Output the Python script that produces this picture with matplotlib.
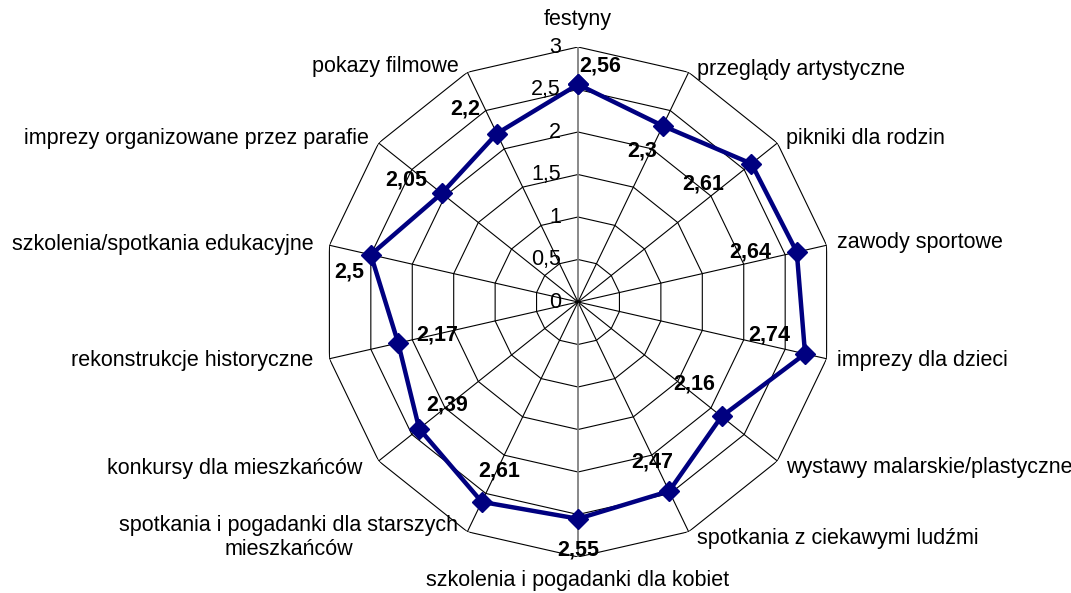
import numpy as np
import matplotlib
matplotlib.use('Agg')
import matplotlib.pyplot as plt

plt.rcParams['font.family'] = ['Liberation Sans', 'DejaVu Sans']

categories = ['festyny', 'przeglądy artystyczne', 'pikniki dla rodzin', 'zawody sportowe',
              'imprezy dla dzieci', 'wystawy malarskie/plastyczne',
              'spotkania z ciekawymi ludźmi', 'szkolenia i pogadanki dla kobiet',
              'spotkania i pogadanki dla starszych\nmieszkańców', 'konkursy dla mieszkańców',
              'rekonstrukcje historyczne', 'szkolenia/spotkania edukacyjne',
              'imprezy organizowane przez parafie', 'pokazy filmowe']
values = [2.56, 2.3, 2.61, 2.64, 2.74, 2.16, 2.47, 2.55, 2.61, 2.39, 2.17, 2.5, 2.05, 2.2]
rings = [0.5, 1, 1.5, 2, 2.5, 3]
tick_values = [0, 0.5, 1, 1.5, 2, 2.5, 3]

# label offsets in pixels (dx, dy with y down)
val_off = [(22, -18), (-21, 25), (-48, 20), (-47, 0), (-36, -19), (-27, -32), (-17, -29),
           (0, 31), (17, -31), (28, -24), (39, -8), (-22, 17), (-36, -13), (-32, -25)]
cat_off = [(0, -28), (8, -3), (9, -5), (10, -3), (10, 2), (9, 7), (8, 7),
           (0, 24), (-9, 6), (-16, 8), (-16, 2), (-16, -1), (-10, -5), (-9, -6)]
cat_ha = ['center', 'left', 'left', 'left', 'left', 'left', 'left',
          'center', 'right', 'right', 'right', 'right', 'right', 'right']

def fmt(v):
    return ('%g' % v).replace('.', ',')

n = len(categories)
theta = np.arange(n) * 2 * np.pi / n
theta_c = np.append(theta, theta[0])

fig = plt.figure(figsize=(10.71, 5.93), dpi=100)
ax = fig.add_axes([0.30159, 0.06071, 0.47619, 0.86003], projection='polar')
ax.set_theta_zero_location('N')
ax.set_theta_direction(-1)
ax.set_ylim(0, 3)
ax.set_axis_off()

px = 0.72  # points per pixel
fs = 15.5

# polygon grid
for r in rings:
    ax.plot(theta_c, [r] * (n + 1), color='black', lw=0.8, zorder=1)
for i, t in enumerate(theta):
    c = '#808080' if i in (0, 7) else 'black'
    w = 1.3 if i in (0, 7) else 0.8
    ax.plot([t, t], [0, 3], color=c, lw=w, zorder=1)

# value axis labels
for v in tick_values:
    ax.annotate(fmt(v), xy=(0, v), xytext=(-17 * px, 0), textcoords='offset points',
                ha='right', va='center', fontsize=fs, color='black', zorder=2)

# data series
vals_c = values + values[:1]
ax.plot(theta_c, vals_c, color='#000080', lw=3.2, marker='D', ms=10,
        markeredgecolor='#000080', zorder=3)

for t, v, (dx, dy) in zip(theta, values, val_off):
    ax.annotate(fmt(v), xy=(t, v), xytext=(dx * px, -dy * px), textcoords='offset points',
                ha='center', va='center', fontsize=fs, fontweight='bold', zorder=4)

for t, lab, (dx, dy), ha in zip(theta, categories, cat_off, cat_ha):
    ax.annotate(lab, xy=(t, 3), xytext=(dx * px, -dy * px), textcoords='offset points',
                ha=ha, va='center', multialignment='center', fontsize=fs,
                annotation_clip=False, zorder=4)

fig.savefig('out.png', dpi=100)
